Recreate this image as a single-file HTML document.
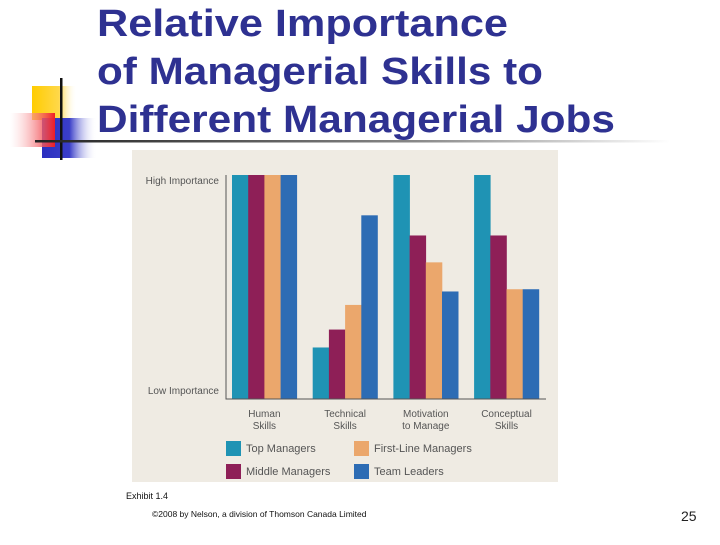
<!DOCTYPE html>
<html><head><meta charset="utf-8">
<style>
html,body{margin:0;padding:0;background:#fff;}
body{width:720px;height:540px;position:relative;overflow:hidden;font-family:"Liberation Sans",sans-serif;}
</style></head>
<body>
<svg width="720" height="540" viewBox="0 0 720 540" xmlns="http://www.w3.org/2000/svg">
<defs>
<linearGradient id="gy" x1="0" x2="1"><stop offset="0" stop-color="#ffcc00"/><stop offset="0.6" stop-color="#ffd84a"/><stop offset="1" stop-color="#fff" stop-opacity="0"/></linearGradient>
<linearGradient id="gr" x1="0" x2="1"><stop offset="0" stop-color="#fff" stop-opacity="0.3"/><stop offset="1" stop-color="#ee1c24"/></linearGradient>
<linearGradient id="gb" x1="0" x2="1"><stop offset="0" stop-color="#2b2fc0"/><stop offset="0.5" stop-color="#3a3ec8"/><stop offset="1" stop-color="#fff" stop-opacity="0"/></linearGradient>
<linearGradient id="gl" x1="0" x2="1"><stop offset="0" stop-color="#222"/><stop offset="0.6" stop-color="#888"/><stop offset="1" stop-color="#fff"/></linearGradient>
</defs>
<g>
<rect x="32" y="86" width="45" height="34" fill="url(#gy)"/>
<rect x="42" y="118" width="55" height="40" fill="url(#gb)"/>
<rect x="10" y="113" width="45" height="34" fill="url(#gr)"/>
<rect x="60" y="78" width="2.5" height="82" fill="#111"/>
<rect x="35" y="140" width="635" height="2.5" fill="url(#gl)"/>
</g>
<g fill="#2e3191" font-weight="bold" font-size="38" font-family="'Liberation Sans',sans-serif">
<text x="97" y="36" textLength="411" lengthAdjust="spacingAndGlyphs">Relative Importance</text>
<text x="97" y="84" textLength="446" lengthAdjust="spacingAndGlyphs">of Managerial Skills to</text>
<text x="97" y="132" textLength="518" lengthAdjust="spacingAndGlyphs">Different Managerial Jobs</text>
</g>
<rect x="132" y="150" width="426" height="332" fill="#efebe3"/>
<g id="chart"></g>
<text x="126" y="499" font-size="9" fill="#111">Exhibit 1.4</text>
<text x="152" y="517" font-size="8.5" fill="#111">©2008 by Nelson, a division of Thomson Canada Limited</text>
<text x="681" y="521" font-size="14" fill="#222">25</text>
</svg>
<script>
const categories = [["Human","Skills"],["Technical","Skills"],["Motivation","to Manage"],["Conceptual","Skills"]];
const seriesNames = ["Top Managers","Middle Managers","First-Line Managers","Team Leaders"];
const topManagers = [100, 23, 100, 100];
const middleManagers = [100, 31, 73, 73];
const firstLineManagers = [100, 42, 61, 49];
const teamLeaders = [100, 82, 48, 49];
const colors = ["#1f93b4","#8e1f57","#eba76c","#2d6cb4"];
const series = [topManagers, middleManagers, firstLineManagers, teamLeaders];
const NS="http://www.w3.org/2000/svg";
const g=document.getElementById('chart');
const y0=399, y1=175;
function yScale(v){return y0-(y0-y1)*v/100;}
function xGroup(i){return 232+i*80.7;}
const bw=16.2;
function mk(tag,attrs){const e=document.createElementNS(NS,tag);for(const k in attrs)e.setAttribute(k,attrs[k]);g.appendChild(e);return e;}
categories.forEach((c,i)=>{
  series.forEach((s,j)=>{
    const v=s[i];
    const r=mk('rect',{x:xGroup(i)+j*bw,y:yScale(v),width:bw+0.3,height:y0-yScale(v),fill:colors[j]});
    
    
  });
  c.forEach((line,k)=>{
    const t=mk('text',{x:xGroup(i)+2*bw,y:417+k*12,'text-anchor':'middle','font-size':10,fill:'#555'});
    t.textContent=line;
    
    
  });
});
const ax=mk('path',{d:'M226 175 V399 H546',stroke:'#555','stroke-width':1,fill:'none'});


const yl=[["High Importance",184],["Low Importance",394]];
yl.forEach(l=>{
  const t=mk('text',{x:219,y:l[1],'text-anchor':'end','font-size':10,fill:'#555'});
  t.textContent=l[0];
  
  
});
const legPos=[[226,441],[226,464],[354,441],[354,464]];
seriesNames.forEach((n,j)=>{
  const p=legPos[j];
  const sw=mk('rect',{x:p[0],y:p[1],width:15,height:15,fill:colors[j]});
  
  
  const t=mk('text',{x:p[0]+20,y:p[1]+11,'font-size':11,fill:'#555'});
  t.textContent=n;
  
  
});
</script>
</body></html>
